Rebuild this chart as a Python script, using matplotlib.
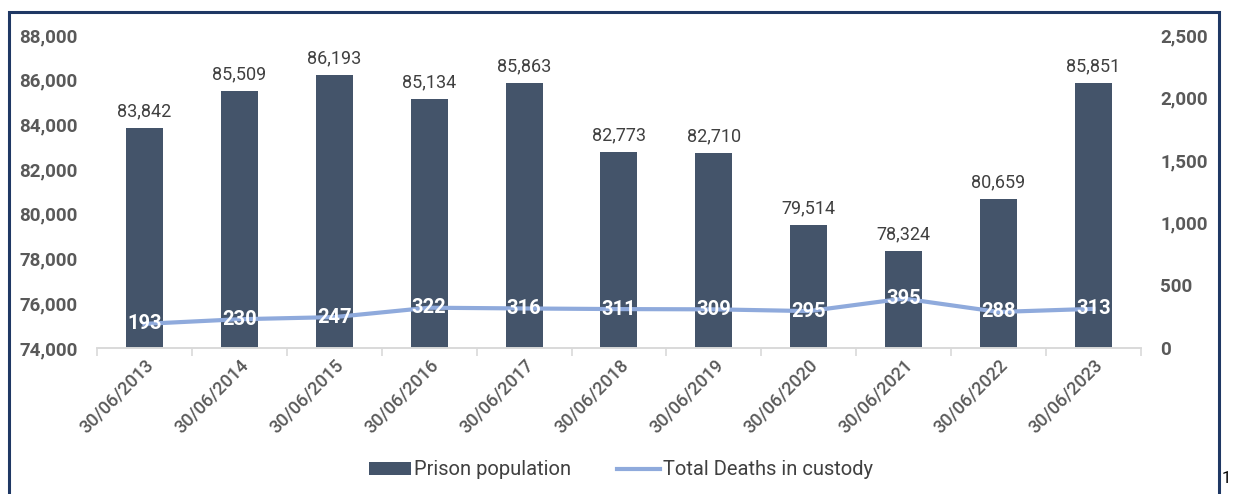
import numpy as np
import matplotlib.pyplot as plt
from matplotlib.patches import Rectangle
from matplotlib.ticker import FuncFormatter

plt.rcParams['font.family'] = ['Roboto', 'DejaVu Sans']

dates = ["30/06/2013", "30/06/2014", "30/06/2015", "30/06/2016", "30/06/2017", "30/06/2018",
         "30/06/2019", "30/06/2020", "30/06/2021", "30/06/2022", "30/06/2023"]
population = [83842, 85509, 86193, 85134, 85863, 82773, 82710, 79514, 78324, 80659, 85851]
deaths = [193, 230, 247, 322, 316, 311, 309, 295, 395, 288, 313]

bar_color = "#44546a"
line_color = "#8faadc"
grey = "#595959"

fig = plt.figure(figsize=(12.34, 4.94), dpi=100)
ax = fig.add_axes([0.0786, 0.2955, 0.8460, 0.6336])
ax2 = ax.twinx()

x = np.arange(len(dates))
ax.bar(x, np.array(population) - 74000, bottom=74000, width=0.39, color=bar_color,
       label="Prison population", zorder=2)
for xi, v in zip(x, population):
    ax.text(xi, v + 350, f"{v:,}", ha="center", va="bottom", fontsize=13, color="#404040")

ax.set_ylim(74000, 88000)
ax.set_yticks(np.arange(74000, 88001, 2000))
ax.set_xlim(-0.5, len(x) - 0.5)
ax.yaxis.set_major_formatter(FuncFormatter(lambda v, p: f"{int(v):,}"))
ax.set_xticks(x)
ax.set_xticklabels(dates, rotation=45, ha="right", rotation_mode="anchor", fontsize=13,
                   color=grey, fontweight="medium")
ax.set_xticks(np.arange(-0.5, len(x), 1), minor=True)
ax.tick_params(axis="x", which="major", length=0, pad=6)
ax.tick_params(axis="x", which="minor", length=6, color="#d9d9d9", width=1.2)
ax.tick_params(axis="y", length=0, labelsize=13.5, labelcolor=grey, pad=14)
for lbl in ax.get_yticklabels():
    lbl.set_fontweight("bold")

ax2.plot(x, deaths, color=line_color, linewidth=3, label="Total Deaths in custody", zorder=3)
for xi, v in zip(x, deaths):
    ax2.text(xi, v, str(v), ha="center", va="center", fontsize=14.5, fontweight="bold", color="white", zorder=4)
ax2.set_ylim(0, 2500)
ax2.set_yticks(np.arange(0, 2501, 500))
ax2.yaxis.set_major_formatter(FuncFormatter(lambda v, p: f"{int(v):,}"))
ax2.tick_params(axis="y", length=0, labelsize=13.5, labelcolor=grey, pad=14)
for lbl in ax2.get_yticklabels():
    lbl.set_fontweight("bold")

for a in (ax, ax2):
    for s in ("top", "left", "right"):
        a.spines[s].set_visible(False)
    a.spines["bottom"].set_color("#d9d9d9")
    a.spines["bottom"].set_linewidth(1.2)

h1, l1 = ax.get_legend_handles_labels()
h2, l2 = ax2.get_legend_handles_labels()
fig.legend(h1 + h2, l1 + l2, loc="center", bbox_to_anchor=(0.503, 0.049), ncol=2, frameon=False,
           fontsize=14.5, handlelength=2.1, handleheight=0.6, handletextpad=0.15, columnspacing=2.3,
           labelcolor="#404040")

fig.patches.append(Rectangle((9 / 1234, -0.05), 1210 / 1234, 1.05 - 12 / 494, transform=fig.transFigure,
                             fill=False, edgecolor="#1f3864", linewidth=2.2))
fig.text(1222 / 1234, 8 / 494, "1", fontsize=12, color="black", ha="left", va="bottom")

fig.savefig("out.png", dpi=100)
